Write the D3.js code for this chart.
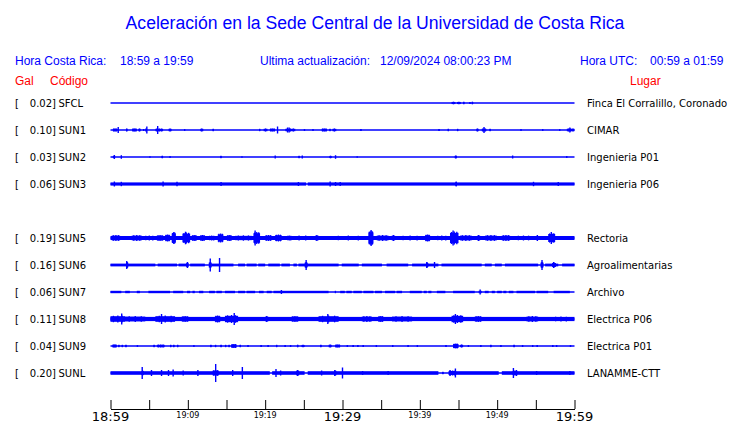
<!DOCTYPE html>
<html><head><meta charset="utf-8">
<script src="https://cdn.jsdelivr.net/npm/d3@7"></script>
<style>body{margin:0;background:#fff}svg{display:block}</style>
</head><body><svg id="c" width="740" height="423"></svg>
<script>
// ---------- DATA ----------
const codes = ["SFCL","SUN1","SUN2","SUN3","SUN5","SUN6","SUN7","SUN8","SUN9","SUNL"];
const slots = ["SFCL","SUN1","SUN2","SUN3","SUN4","SUN5","SUN6","SUN7","SUN8","SUN9","SUNL"];
const maxGal = ["0.02","0.10","0.03","0.06","0.19","0.16","0.06","0.11","0.04","0.20"];
const places = ["Finca El Corralillo, Coronado","CIMAR","Ingenieria P01","Ingenieria P06","Rectoria","Agroalimentarias","Archivo","Electrica P06","Electrica P01","LANAMME-CTT"];
const tickMinutes = [0,5,10,15,20,25,30,35,40,45,50,55,60];
const tickLabels = ["18:59","19:09","19:19","19:29","19:39","19:49","19:59"];
const majorLabels = ["18:59","19:29","19:59"];
// time in minutes after 18:59, amplitude in relative units
// continuous noise band segments [t0, t1, amp]
const bandSFCL = [];
const bandSUN1 = [];
const bandSUN2 = [];
const bandSUN3 = [[0,25.3,1.6],[25.5,60,1.6]];
const bandSUN5 = [[0,60,2.0]];
const bandSUN6 = [[0,5.8,1.4],[6.1,8.6,1.4],[8.8,9.9,1.4],[10.3,12.2,1.4],[13.1,15.9,1.4],[16.5,17.4,1.4],[17.6,18.9,1.4],[19.1,20,1.4],[20.4,21.9,1.4],[22.1,23.2,1.4],[23.65,24.1,1.4],[24.3,29.5,1.4],[29.9,32.1,1.4],[32.5,35.1,1.4],[35.7,38.5,1.4],[39,42.4,1.4],[42.8,48,1.4],[48.4,49.3,1.4],[49.7,50.6,1.4],[51,55.3,1.4],[56.2,57.9,1.4],[58.4,60,1.4]];
const bandSUN7 = [[0,1.4,1.2],[1.9,2.5,1.2],[3.4,3.8,1.2],[4.9,7.7,1.2],[8.1,9.4,1.2],[9.9,10.3,1.2],[10.6,10.9,1.2],[11.45,12,1.2],[12.75,13.5,1.2],[13.7,14.4,1.2],[14.8,16.1,1.2],[16.5,17.4,1.2],[17.6,18.7,1.2],[19.2,19.8,1.2],[20.2,20.85,1.2],[21.07,28.2,1.2],[29.0,29.1,1.2],[29.7,30.3,1.2],[30.5,31.2,1.2],[31.4,32.5,1.2],[32.7,34,1.2],[34.2,35.1,1.2],[35.5,36.8,1.2],[37,37.7,1.2],[38.7,40.25,1.2],[40.5,40.9,1.2],[41.1,41.5,1.2],[42.2,43.3,1.2],[44.3,47.1,1.2],[47.6,48,1.2],[48.4,48.9,1.2],[49.3,49.7,1.2],[50,50.6,1.2],[50.8,51.2,1.2],[51.5,52.1,1.2],[52.5,54.9,1.2],[55.1,56.6,1.2],[57.3,59.4,1.2]];
const bandSUN8 = [[0,60,2.1]];
const bandSUN9 = [];
const bandSUNL = [[0,20.6,1.8],[20.9,25.1,1.8],[25.5,42.4,1.8],[43.7,50.2,1.8],[50.6,60,1.8]];
// bursts [t0, t1, amp]
const burstSFCL = [[44.1,44.6,1.3],[44.8,45.3,1.3],[45.6,45.7,1.3],[46.4,46.45,0.9],[46.7,46.9,1.3]];
const burstSUN1 = [[0.3,0.9,1.5],[2.0,2.2,1.5],[2.8,3.4,1.5],[3.6,3.9,1.5],[4.2,4.3,1],[4.5,4.7,1.5],[5.8,6.8,1.5],[7.5,7.9,1.5],[9.5,9.6,0.8],[11.6,12.0,1.5],[13.2,13.3,1.2],[19.2,19.3,1.2],[19.8,20.3,1.5],[20.6,21.3,1.5],[22.6,23.9,1.5],[25.0,25.1,0.8],[26.1,26.2,0.8],[27.3,28.0,1.5],[28.3,28.4,1.2],[28.7,29.2,1.5],[32.3,32.4,1],[42.4,42.5,1],[43.6,43.7,1.2],[44.8,44.9,1.2],[47.3,47.6,1.5],[48.0,48.6,1.5],[49.0,49.1,1.2],[53.0,53.1,0.8],[55.8,55.9,0.8],[58.0,58.1,0.8],[59.0,60,1.5]];
const burstSUN2 = [[0.3,0.6,1.3],[6.6,6.8,1.3],[14.2,14.3,1.2],[24.3,24.4,1.2],[28.3,28.6,1.3],[44.5,44.8,1.5]];
const burstSUN3 = [[44.6,44.8,2.5]];
const burstSUN5 = [[0.16,1.24,3],[2.75,4.04,3],[4.26,5.77,2.5],[5.98,6.84,3],[7.06,7.71,3.5],[7.92,8.44,5.5],[9.3,10.3,5.5],[10.5,11.15,3],[11.58,12.23,3],[12.66,13.52,2.5],[13.87,14.6,4.5],[15.03,15.68,3],[16.1,18.27,2.7],[18.48,19.34,6],[19.99,20.85,3],[21.28,22.14,3.5],[22.79,23.44,2.5],[24.3,24.4,2.5],[25.16,25.3,2.5],[26.46,26.9,3],[28.6,32.9,2.5],[33.35,34,7],[34.43,35.94,3],[36.37,36.8,3],[37.23,40.25,2.5],[40.68,41.33,3.5],[41.97,43.7,2.5],[43.9,45,6.5],[45.2,46.7,3],[47.4,47.8,3],[48.44,49.95,3],[50.6,51.67,3],[52.3,54.5,2.5],[55.1,55.3,3],[56.6,57.5,5]];
const burstSUN6 = [[2,2.3,3],[9.8,10.1,2.5],[12.7,13.1,3],[25.1,25.5,3],[40.8,41.1,2.5],[55.6,56.0,3],[57.1,57.6,2.5]];
const burstSUN7 = [];
const burstSUN8 = [[0,1.9,3.5],[1.9,4.5,3],[5.8,8.35,3.5],[9.2,10.1,3],[13.5,14.2,3.5],[14.8,16.5,4],[20,20.4,3],[23.4,24.3,3],[26.9,29.5,3.5],[32.5,33.8,3],[34.6,35.3,3],[36.4,39,3],[44.1,45.6,4],[47.1,48,3],[53.8,55.3,3],[57.1,59.4,2.5]];
const burstSUN9 = [[0.25,0.8,1.5],[1.0,1.1,1.2],[1.45,1.55,1.2],[1.9,2.1,1.3],[3.4,3.45,0.8],[5.55,5.65,1.2],[6,7,1.5],[7.7,7.8,1.2],[8.1,8.2,1.2],[8.6,8.7,1.2],[10.7,10.75,0.8],[12.9,13,1.2],[13.5,13.6,1.2],[14.2,14.4,1.3],[14.8,14.9,1.2],[15.25,15.35,1.2],[15.6,16.3,2],[16.7,16.8,1.2],[17.7,17.75,0.9],[19.4,19.45,0.9],[20.3,20.35,0.9],[21.4,21.5,1.2],[22.5,22.55,0.9],[23.2,23.25,0.9],[24.1,24.3,1.3],[24.7,25.1,1.3],[27.1,27.3,1.3],[28.2,28.6,1.5],[29.05,29.7,1.5],[30.55,30.6,1],[31.3,31.35,1],[31.9,31.95,0.9],[32.6,32.65,0.9],[34.3,34.35,0.9],[36.4,36.45,1],[38.4,38.45,0.9],[39.6,39.65,0.9],[43.3,43.35,0.9],[44.3,45,2.5],[45.2,45.6,1.5],[46.2,46.25,0.9],[47.8,47.85,1],[49.1,49.15,1.2],[50.4,50.45,0.9],[52.1,52.2,1.3],[53.2,53.25,0.9],[54.5,54.55,0.9],[55.1,55.15,0.9],[57.1,57.15,1],[57.6,57.65,0.9],[59.4,59.45,1]];
const burstSUNL = [[4.0,4.3,2.5],[13.2,14.0,3],[24.0,24.4,3],[29.0,29.2,2.5],[42.9,43.0,1.2],[43.8,44.7,2.5],[52.0,52.6,2.5]];
// spikes [t, amp]
const spikeSFCL = [];
const spikeSUN1 = [[1.0,3],[4.7,3.5],[6.1,4],[21.6,3.5],[22.9,2.5],[23.1,2.5],[48.3,3],[59.4,2.5]];
const spikeSUN2 = [[0.5,2],[1.4,1.8],[5.1,0.8],[7.7,1],[17.0,0.8],[21.3,1.5],[24.8,1.5],[29.1,1.8],[31.9,0.8],[52.0,1.5],[59.0,1]];
const spikeSUN3 = [[0.5,2.5],[1.4,2.2],[6.8,2.5],[8.6,2.2],[14.3,2],[24.3,2],[28.4,2.5],[29.1,2],[29.7,2],[54.7,2.2],[57.9,2]];
const spikeSUN5 = [[8.2,6],[9.7,6.3],[18.7,7.5],[33.7,8],[44.3,7.5],[57.0,6]];
const spikeSUN6 = [[2.1,4],[9.95,3],[12.9,6.5],[14.1,7],[25.3,5],[40.9,3],[41.9,3],[55.8,5],[57.3,3]];
const spikeSUN7 = [[22.1,2],[47.8,2.5]];
const spikeSUN8 = [[1.45,5.5],[6.6,5],[16,6],[28.1,5],[44.6,5]];
const spikeSUN9 = [];
const spikeSUNL = [[4.1,6],[5.3,3],[6.6,3],[7.5,3],[8.1,3.5],[9.4,2.5],[11.3,3],[13.6,9],[15.8,3],[17.05,6],[21.4,4],[22,2.5],[27.3,2.5],[29,3],[30,5.5],[32.6,2],[35.9,2],[43.9,3],[44.6,4.5],[52.1,5],[52.5,3],[55.1,2],[59.4,2]];

const bands = [bandSFCL,bandSUN1,bandSUN2,bandSUN3,bandSUN5,bandSUN6,bandSUN7,bandSUN8,bandSUN9,bandSUNL];
const bursts = [burstSFCL,burstSUN1,burstSUN2,burstSUN3,burstSUN5,burstSUN6,burstSUN7,burstSUN8,burstSUN9,burstSUNL];
const spikes = [spikeSFCL,spikeSUN1,spikeSUN2,spikeSUN3,spikeSUN5,spikeSUN6,spikeSUN7,spikeSUN8,spikeSUN9,spikeSUNL];

// ---------- DRAW ----------
const svg = d3.select("#c");
const BLUE = "#0000ff", RED = "#ff0000";
const x = d3.scaleLinear().domain([0,60]).range([110.5,574.5]);
const y = d3.scalePoint().domain(slots).range([103,373]);
const a = d3.scaleLinear().domain([0,10]).range([0,10]);

svg.append("text").attr("x",375).attr("y",29).attr("text-anchor","middle")
  .attr("font-family","Liberation Sans, Arial, sans-serif").attr("font-size",17.6).attr("fill",BLUE)
  .text("Aceleración en la Sede Central de la Universidad de Costa Rica");

const hdr = [[15,"Hora Costa Rica:"],[120,"18:59 a 19:59"],[260,"Ultima actualización:"],[380,"12/09/2024 08:00:23 PM"],[580,"Hora UTC:"],[650,"00:59 a 01:59"]];
svg.selectAll("text.h").data(hdr).join("text").attr("class","h")
  .attr("x",d=>d[0]).attr("y",65).attr("font-family","Liberation Sans, Arial, sans-serif")
  .attr("font-size",12).attr("fill",BLUE).text(d=>d[1]);
const hdr2 = [[15,"Gal"],[50,"Código"],[630,"Lugar"]];
svg.selectAll("text.h2").data(hdr2).join("text").attr("class","h2")
  .attr("x",d=>d[0]).attr("y",85).attr("font-family","Liberation Sans, Arial, sans-serif")
  .attr("font-size",12).attr("fill",RED).text(d=>d[1]);

const rows = svg.selectAll("g.row").data(codes).join("g").attr("class","row")
  .attr("transform",d=>`translate(0,${y(d)})`);
const lf = "DejaVu Sans, sans-serif";
rows.append("text").attr("x",15).attr("dy","0.35em").attr("font-family",lf).attr("font-size",10).text("[");
rows.append("text").attr("x",56).attr("dy","0.35em").attr("text-anchor","end").attr("font-family",lf).attr("font-size",10).text((d,i)=>maxGal[i]+"]");
rows.append("text").attr("x",58.5).attr("dy","0.35em").attr("font-family",lf).attr("font-size",10).text(d=>d);
rows.append("text").attr("x",587).attr("dy","0.35em").attr("font-family",lf).attr("font-size",10).text((d,i)=>places[i]);

rows.append("line").attr("x1",x(0)).attr("x2",x(60)).attr("y1",0).attr("y2",0)
  .attr("stroke",BLUE).attr("stroke-width",1.3);
rows.each(function(d,i){
  const g = d3.select(this);
  g.selectAll("rect.b").data(bands[i]).join("rect").attr("class","b")
    .attr("x",r=>x(r[0])).attr("width",r=>Math.max(1.3,x(r[1])-x(r[0])))
    .attr("y",r=>-a(r[2])).attr("height",r=>2*a(r[2])).attr("fill",BLUE);
  // bursts: core block plus ragged peaks
  const gb = g.selectAll("g.u").data(bursts[i]).join("g").attr("class","u");
  gb.append("rect")
    .attr("x",r=>x(r[0])).attr("width",r=>Math.max(1.3,x(r[1])-x(r[0])))
    .attr("y",r=>-a(r[2]*0.8)).attr("height",r=>2*a(r[2]*0.8)).attr("fill",BLUE);
  gb.each(function(r){
    const x0=x(r[0]), x1=Math.max(x0+1.3,x(r[1])), w=x1-x0;
    const pk = w>4 ? [[0.5,1],[0.2,0.92],[0.8,0.95]] : [[0.5,1]];
    d3.select(this).selectAll("line").data(pk).join("line")
      .attr("x1",p=>x0+p[0]*w).attr("x2",p=>x0+p[0]*w)
      .attr("y1",p=>-a(r[2]*p[1])).attr("y2",p=>a(r[2]*p[1]))
      .attr("stroke",BLUE).attr("stroke-width",1.3);
  });
  g.selectAll("line.s").data(spikes[i]).join("line").attr("class","s")
    .attr("x1",s=>x(s[0])).attr("x2",s=>x(s[0])).attr("y1",s=>-a(s[1])).attr("y2",s=>a(s[1]))
    .attr("stroke",BLUE).attr("stroke-width",1.4);
});

// axis
const ax = svg.append("g").attr("transform","translate(0,409)")
  .call(d3.axisTop(x).tickValues(tickMinutes).tickSize(9).tickSizeOuter(0).tickFormat(""));
ax.select(".domain").attr("stroke","#000");
ax.selectAll(".tick line").attr("stroke","#000");
svg.selectAll("text.tl").data(tickLabels).join("text").attr("class","tl")
  .attr("x",(d,i)=>x(i*10)).attr("text-anchor","middle")
  .attr("y",d=>majorLabels.includes(d)?421:418)
  .attr("font-family",lf).attr("font-size",d=>majorLabels.includes(d)?13:8).attr("fill","#000")
  .text(d=>d);
</script></body></html>
